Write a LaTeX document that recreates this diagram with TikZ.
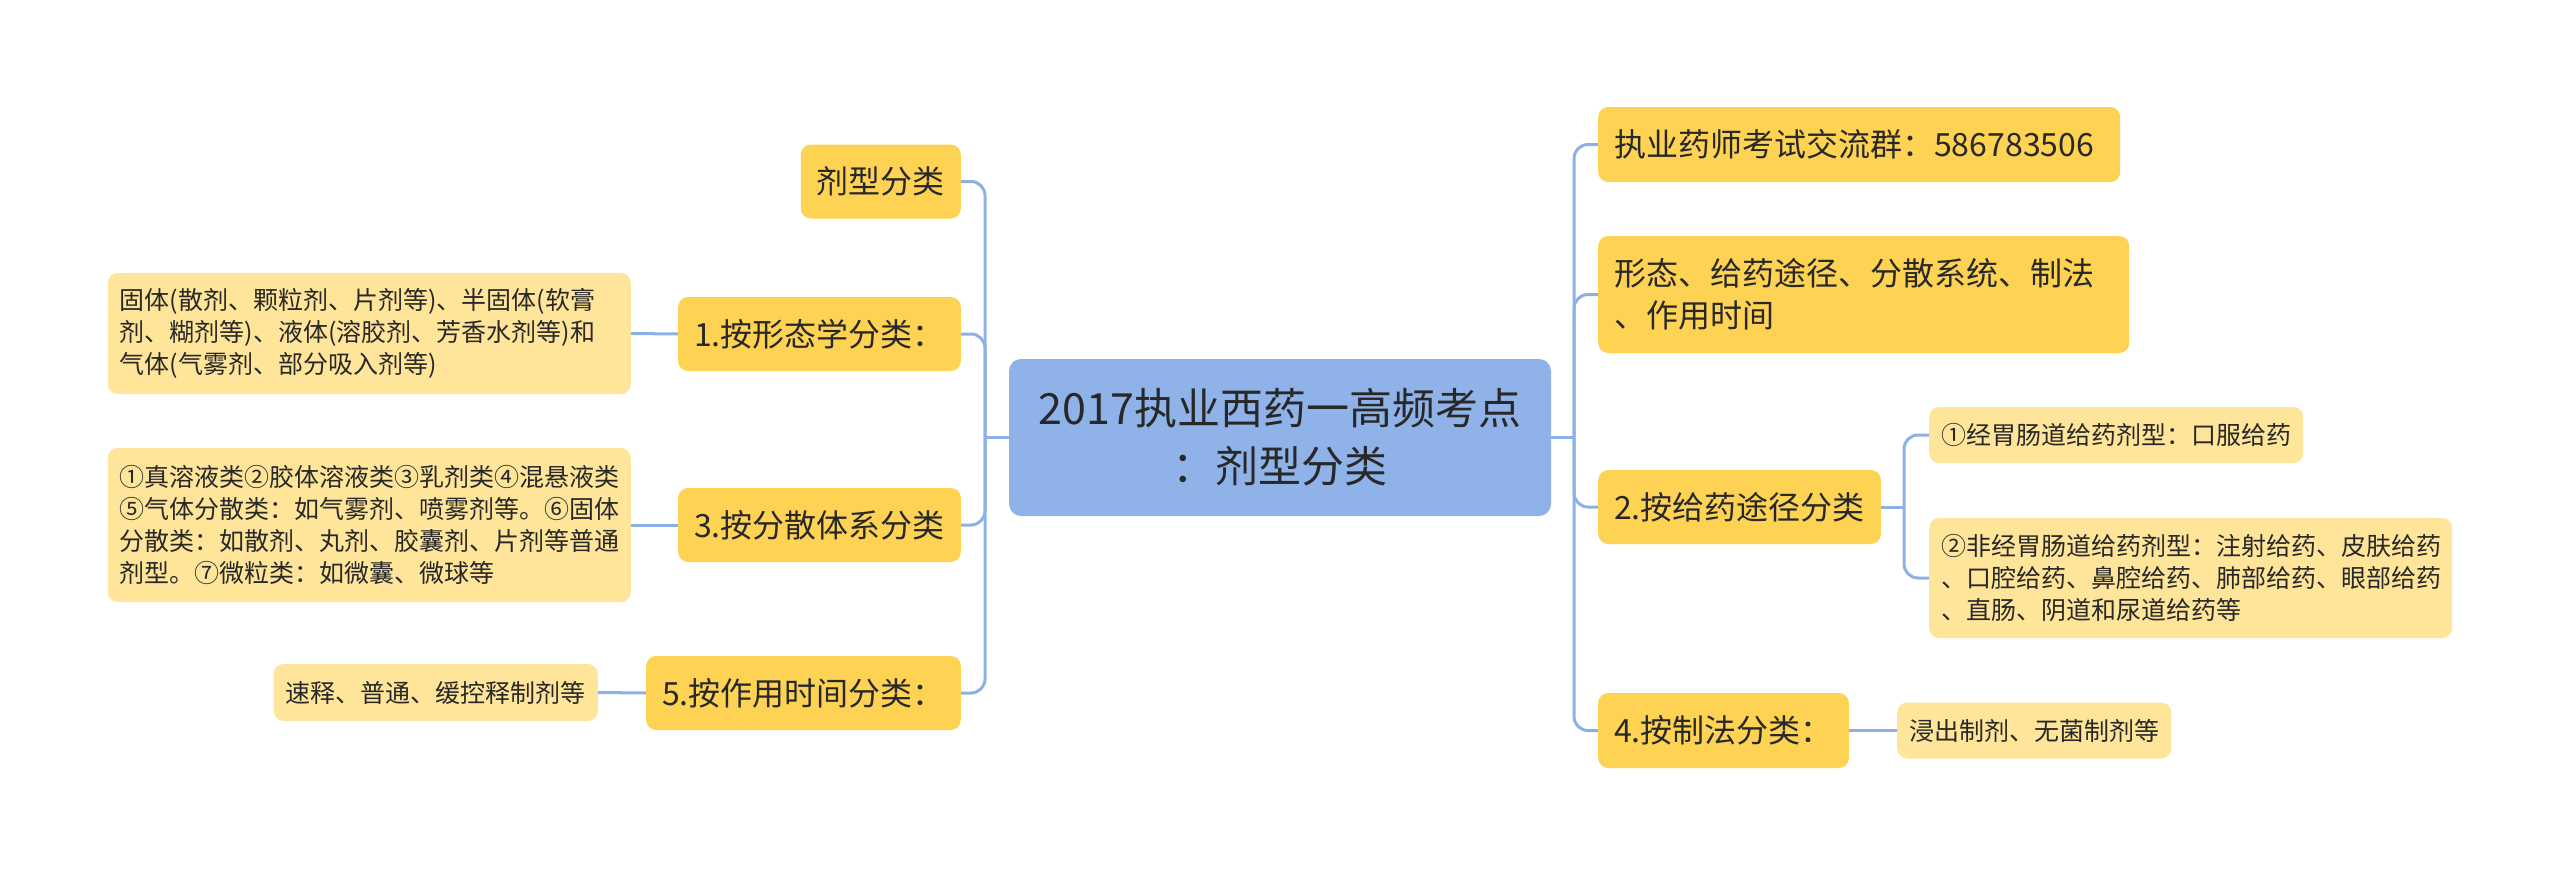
\documentclass[tikz,border=0pt]{standalone}
\usepackage{fontspec}
\setmainfont{Noto Sans CJK SC}
\usepackage{tikz}
\definecolor{rootblue}{RGB}{143,178,232}
\definecolor{mainyel}{RGB}{254,210,82}
\definecolor{leafyel}{RGB}{255,229,153}
\definecolor{linkblue}{RGB}{141,176,230}
\definecolor{txt}{RGB}{40,40,40}

\begin{document}
\begin{tikzpicture}[
    x=1pt, y=-1pt,
    root/.style={rectangle,fill=rootblue,rounded corners=12pt,align=center,minimum width=542pt,minimum height=157pt,font=\fontsize{43}{58}\selectfont,text=txt},
    branch/.style={rectangle,fill=mainyel,rounded corners=10pt,inner xsep=16pt,inner ysep=0pt,minimum height=74pt,align=left,font=\fontsize{32}{42}\selectfont,text=txt},
    leaf/.style={rectangle,fill=leafyel,rounded corners=10pt,inner xsep=12pt,inner ysep=0pt,minimum height=56pt,align=left,font=\fontsize{25}{31.7}\selectfont,text=txt},
    link/.style={draw=linkblue,line width=3pt,rounded corners=14pt}
]
\useasboundingbox (0,0) rectangle (2560,875);

\node[root] (root) at (1280,437.5) {2017执业西药一高频考点\\：剂型分类};

\node[branch,anchor=east] (jx) at (961,181.5) {剂型分类};
\node[branch,anchor=east] (m1) at (961,334) {1.按形态学分类：};
\node[branch,anchor=east] (m3) at (961,525) {3.按分散体系分类};
\node[branch,anchor=east] (m5) at (961,693) {5.按作用时间分类：};
\node[leaf,anchor=east,text width=499pt,minimum height=121pt] (d1) at (631,333.5) {固体(散剂、颗粒剂、片剂等)、半固体(软膏\\剂、糊剂等)、液体(溶胶剂、芳香水剂等)和\\气体(气雾剂、部分吸入剂等)};
\node[leaf,anchor=east,text width=499pt,minimum height=154pt] (d3) at (631,525) {①真溶液类②胶体溶液类③乳剂类④混悬液类\\⑤气体分散类：如气雾剂、喷雾剂等。⑥固体\\分散类：如散剂、丸剂、胶囊剂、片剂等普通\\剂型。⑦微粒类：如微囊、微球等};
\node[leaf,anchor=east,minimum height=57pt] (d5) at (598,692.5) {速释、普通、缓控释制剂等};

\node[branch,anchor=west,text width=490pt,minimum height=75pt] (qq) at (1598,144.5) {执业药师考试交流群：586783506};
\node[branch,anchor=west,text width=499pt,minimum height=117pt] (xt) at (1598,294.5) {形态、给药途径、分散系统、制法\\、作用时间};
\node[branch,anchor=west] (m2) at (1598,507) {2.按给药途径分类};
\node[branch,anchor=west,minimum height=75pt] (m4) at (1598,730.5) {4.按制法分类：};
\node[leaf,anchor=west] (r1) at (1929,435) {①经胃肠道给药剂型：口服给药};
\node[leaf,anchor=west,text width=499pt,minimum height=120pt] (r2) at (1929,578) {②非经胃肠道给药剂型：注射给药、皮肤给药\\、口腔给药、鼻腔给药、肺部给药、眼部给药\\、直肠、阴道和尿道给药等};
\node[leaf,anchor=west] (r4) at (1897,730.5) {浸出制剂、无菌制剂等};

\coordinate (lt) at (985,437.5);
\coordinate (rt) at (1574,437.5);
\coordinate (sb) at (1904,507);

\draw[link] (root.west) -- (lt);
\draw[link] (lt) |- (jx.east);
\draw[link] (lt) |- (m1.east);
\draw[link] (lt) |- (m3.east);
\draw[link] (lt) |- (m5.east);
\draw[link] (d1.east) -- (m1.west);
\draw[link] (d3.east) -- (m3.west);
\draw[link] (d5.east) -- (m5.west);

\draw[link] (root.east) -- (rt);
\draw[link] (rt) |- (qq.west);
\draw[link] (rt) |- (xt.west);
\draw[link] (rt) |- (m2.west);
\draw[link] (rt) |- (m4.west);
\draw[link] (m2.east) -- (sb);
\draw[link] (sb) |- (r1.west);
\draw[link] (sb) |- (r2.west);
\draw[link] (m4.east) -- (r4.west);
\end{tikzpicture}
\end{document}
